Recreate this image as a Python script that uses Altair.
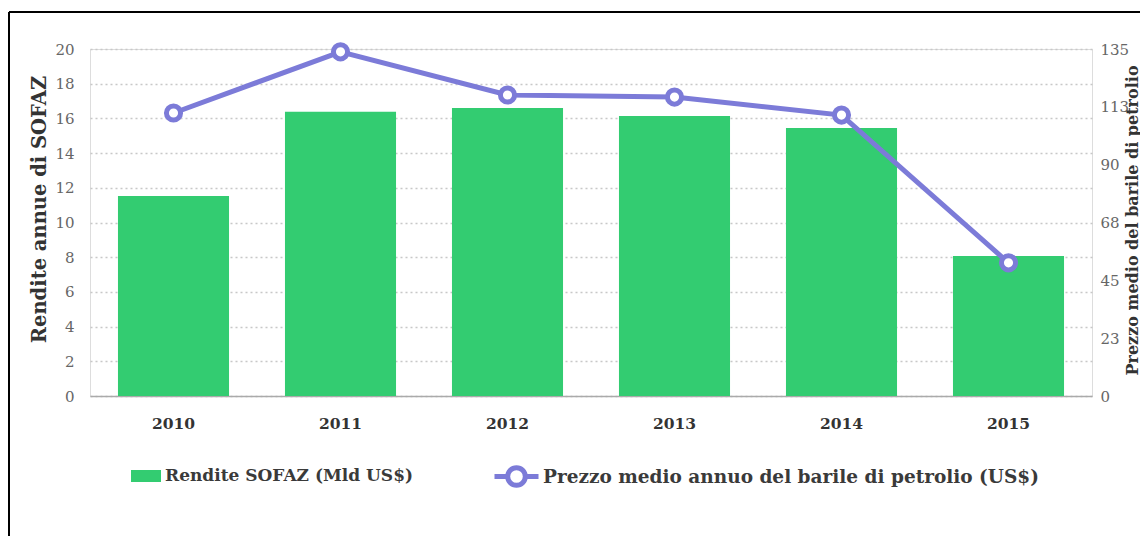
import altair as alt
import pandas as pd

years = ["2010", "2011", "2012", "2013", "2014", "2015"]
rendite = [11.53, 16.39, 16.6, 16.14, 15.45, 8.07]
prezzo = [110.1, 133.9, 117.1, 116.3, 109.3, 51.8]
left_ticks = [0, 2, 4, 6, 8, 10, 12, 14, 16, 18, 20]
right_ticks = [0, 22.5, 45, 67.5, 90, 112.5, 135]

lab_bar = "Rendite SOFAZ (Mld US$)"
lab_line = "Prezzo medio annuo del barile di petrolio (US$)"

GREEN = "#33cc71"
PURPLE = "#7c7bd8"
FONT = "DejaVu Serif"

df = pd.DataFrame({"year": years, "rendite": rendite, "prezzo": prezzo,
                   "s1": lab_bar, "s2": lab_line})

W, H = 1002, 347

xenc = alt.X("year:N", title=None,
             scale=alt.Scale(paddingInner=0.335, paddingOuter=0.1675),
             axis=alt.Axis(labelAngle=0, ticks=False, domainColor="#aaaaaa",
                           domainWidth=1.5, labelFont=FONT, labelFontWeight="bold",
                           labelFontSize=15.5, labelColor="#333333", labelPadding=20))

bars = alt.Chart(df).mark_bar().encode(
    x=xenc,
    y=alt.Y("rendite:Q", scale=alt.Scale(domain=[0, 20], nice=False),
            axis=alt.Axis(values=left_ticks, grid=True, gridDash=[2, 3],
                          gridColor="#c8c8c8", gridWidth=1.5, domain=False, ticks=False,
                          labelFont=FONT, labelFontSize=15, labelColor="#666666",
                          labelPadding=16, title="Rendite annue di SOFAZ",
                          titleFont=FONT, titleFontSize=19.5, titleFontWeight="bold",
                          titleColor="#333333", titleAngle=270, titleBaseline="alphabetic",
                          titleAlign="center", titleX=-45, titleY=160)),
    color=alt.Color("s1:N", scale=alt.Scale(domain=[lab_bar], range=[GREEN]),
                    legend=alt.Legend(title=None, orient="none", legendX=41, legendY=412,
                                      padding=0, symbolType="M-1,-0.4L1,-0.4L1,0.4L-1,0.4Z",
                                      symbolSize=900, symbolStrokeWidth=0, labelLimit=0,
                                      labelFont=FONT, labelFontSize=17, labelFontWeight="bold",
                                      labelColor="#3a3a3a", labelOffset=4)),
)

yaxis_right = alt.Axis(orient="right", values=right_ticks, format=".0f", grid=False,
                       domain=False, ticks=False, labelFont=FONT, labelFontSize=15,
                       labelColor="#666666", labelPadding=8,
                       title="Prezzo medio del barile di petrolio",
                       titleFont=FONT, titleFontSize=16, titleFontWeight="bold",
                       titleColor="#333333", titleAngle=270,
                       titleBaseline="alphabetic", titleAlign="center",
                       titleX=45, titleY=171)
yscale_right = alt.Scale(domain=[0, 135], nice=False)

line = alt.Chart(df).mark_line(strokeWidth=5).encode(
    x="year:N",
    y=alt.Y("prezzo:Q", scale=yscale_right, axis=yaxis_right),
    stroke=alt.Stroke("s2:N", scale=alt.Scale(domain=[lab_line], range=[PURPLE]),
                      legend=alt.Legend(title=None, orient="none", legendX=402, legendY=403,
                                        padding=0, labelLimit=0,
                                        symbolType="M-1,0L-0.4,0M0.4,0L1,0M-0.4,0A0.4,0.4 0 1,1 0.4,0A0.4,0.4 0 1,1 -0.4,0Z",
                                        symbolSize=1936, symbolStrokeWidth=5,
                                        symbolFillColor="white",
                                        labelFont=FONT, labelFontSize=18.5, labelFontWeight="bold",
                                        labelColor="#3a3a3a", labelOffset=2)),
)

points = alt.Chart(df).mark_point(shape="circle", filled=False, fill="white", stroke=PURPLE,
                                  strokeWidth=5, size=200, opacity=1).encode(
    x="year:N",
    y=alt.Y("prezzo:Q", scale=yscale_right, axis=yaxis_right),
)

frame_data = alt.Data(values=[{"k": 1}])
top_rule = alt.Chart(frame_data).mark_rule(color="black", strokeWidth=2).encode(
    x=alt.value(-81), x2=alt.value(1100), y=alt.value(-37))
left_rule = alt.Chart(frame_data).mark_rule(color="black", strokeWidth=2).encode(
    x=alt.value(-81), y=alt.value(-37), y2=alt.value(600))

right_layer = alt.layer(line, points)

chart = alt.layer(bars, right_layer, top_rule, left_rule).resolve_scale(
    y="independent", color="independent", stroke="independent"
).properties(
    width=W, height=H,
    autosize=alt.AutoSizeParams(type="none"),
    padding={"left": 82, "top": 41, "right": 48, "bottom": 140},
).configure_view(stroke=None).configure(background="white")

chart.save("out.html", embed_options={"renderer": "svg", "actions": False})
